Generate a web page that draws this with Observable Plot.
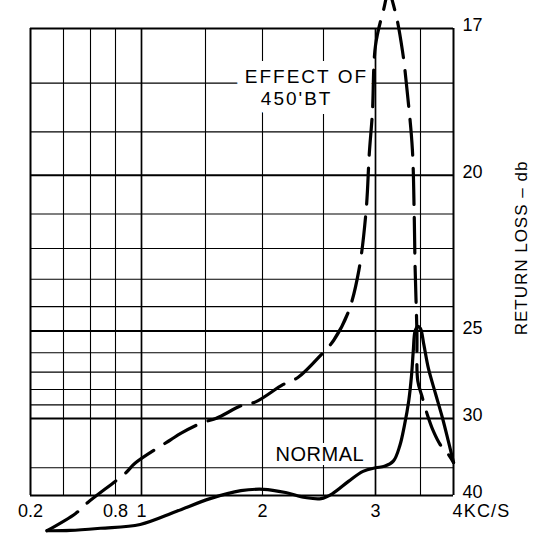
<!DOCTYPE html>
<html>
<head>
<meta charset="utf-8">
<script src="https://cdn.jsdelivr.net/npm/d3@7"></script>
<script src="https://cdn.jsdelivr.net/npm/@observablehq/plot@0.6"></script>
<style>
  html, body { margin: 0; padding: 0; background: #fff; }
  #chart svg { display: block; }
</style>
</head>
<body>
<div id="chart"></div>
<script>
// ---- data (frequency in kc/s, return loss in db) ----
const freqGrid = [0.2, 0.4, 0.6, 0.8, 1, 1.5, 2, 2.5, 3, 3.5, 4];
const freqHeavy = [1, 3];
const freqBorder = [0.2, 4];
const freqLabels = [0.2, 0.8, 1, 2, 3];
const freqEndLabel = [4];
const freqEndText = "4KC/S";

const lossBorder = [17, 40];
const lossMajor = [20, 25, 30];
const lossMinor = [18, 19, 21, 22, 23, 24, 26, 27, 28, 29, 35];
const lossTicks = [17, 20, 25, 30, 40];
const lossTitle = "RETURN LOSS \u2013 db";

const normalFreq = [0.30, 0.45, 0.68, 0.99, 1.27, 1.54, 1.81, 2.01, 2.19, 2.35, 2.48, 2.59, 2.74, 2.88, 3.00, 3.10, 3.20, 3.27, 3.32, 3.37, 3.40, 3.42, 3.44, 3.47, 3.50, 3.55, 3.62, 3.73, 3.83, 3.92, 4.00];
const normalLoss = [80, 75, 62, 54.6, 45.2, 40.8, 38.9, 38.6, 39.3, 40.5, 40.8, 39.5, 37.1, 35.5, 35.0, 34.8, 34.1, 32.4, 30.6, 28.7, 27.2, 25.9, 25.0, 24.8, 24.9, 25.6, 26.8, 28.3, 29.9, 31.9, 34.3];

const btFreq = [0.30, 0.49, 0.58, 0.88, 0.95, 1.23, 1.31, 1.48, 1.59, 1.83, 1.94, 2.17, 2.29, 2.48, 2.60, 2.74, 2.84, 2.91, 2.94, 2.97, 3.00, 3.09, 3.145, 3.22, 3.30, 3.36, 3.41, 3.43, 3.44, 3.46, 3.47, 3.52, 3.61, 3.70, 3.80, 3.91, 4.00];
const btLoss = [80, 46.1, 41.9, 35.7, 34.4, 31.8, 31.2, 30.3, 30.0, 29.0, 28.8, 27.7, 27.3, 26.1, 25.4, 24.2, 22.7, 20.9, 19.5, 18.6, 17.3, 16.68, 16.4, 16.72, 17.4, 18.3, 19.4, 21.0, 22.6, 25.0, 27.5, 28.4, 29.8, 31.1, 32.3, 33.2, 34.3];

const annotText = ["EFFECT OF", "450'BT", "NORMAL"];
const annotFreq = [2.36, 2.28, 2.47];
const annotLoss = [18.0, 18.44, 34.15];

// ---- helpers ----
// the chart's loss axis is linear in reflection coefficient
const refl = db => Math.pow(10, -db / 20);
const toDb = r => Math.round(-20 * Math.log10(r));

const normal = normalFreq.map((f, i) => ({f, db: normalLoss[i]}));
const bt = btFreq.map((f, i) => ({f, db: btLoss[i]}));
const annots = annotText.map((t, i) => ({t, f: annotFreq[i], db: annotLoss[i]}));

const FONT = "'Liberation Sans', Arial, Helvetica, sans-serif";

const svg = Plot.plot({
  width: 547,
  height: 539,
  marginLeft: 30,
  marginRight: 94,
  marginTop: 28,
  marginBottom: 44,
  style: {fontFamily: FONT, background: "#fff", color: "#000", overflow: "visible"},
  x: {type: "linear", domain: freqGrid, range: [30, 63, 90, 115, 141, 205, 262, 323, 375, 420, 453], axis: null},
  y: {type: "linear", domain: [refl(40), refl(17)], axis: null},
  marks: [
    Plot.ruleX(freqGrid.filter(f => !freqHeavy.includes(f) && !freqBorder.includes(f)), {stroke: "#000", strokeWidth: 1.1}),
    Plot.ruleX(freqHeavy, {stroke: "#000", strokeWidth: 1.7}),
    Plot.ruleX(freqBorder, {stroke: "#000", strokeWidth: 2}),
    Plot.ruleY(lossMinor, {y: refl, stroke: "#000", strokeWidth: 1.1}),
    Plot.ruleY(lossMajor, {y: refl, stroke: "#000", strokeWidth: 1.9}),
    Plot.ruleY(lossBorder, {y: refl, stroke: "#000", strokeWidth: 2}),
    Plot.text(annots, {
      x: "f", y: d => refl(d.db), text: "t", lineAnchor: "bottom", textAnchor: "middle",
      fontSize: d => d.t === "NORMAL" ? 20 : 19, fill: "#000", stroke: "#fff",
      strokeWidth: d => d.t === "NORMAL" ? 8 : 18,
      strokeLinejoin: "round"
    }),
    Plot.line(bt, {x: "f", y: d => refl(d.db), stroke: "#000", strokeWidth: 3.2, strokeDasharray: "36,13", curve: "catmull-rom"}),
    Plot.line(normal, {x: "f", y: d => refl(d.db), stroke: "#000", strokeWidth: 3.2, curve: "catmull-rom"}),
    Plot.axisY(lossTicks.map(refl), {anchor: "right", tickSize: 0, tickPadding: 9, fontSize: 18, dy: -3, tickFormat: toDb, label: null}),
    Plot.axisX(freqLabels, {anchor: "bottom", tickSize: 0, tickPadding: 9, fontSize: 18, tickFormat: d => String(d), label: null}),
    Plot.text(freqEndLabel, {x: d => d, frameAnchor: "bottom", text: () => freqEndText, textAnchor: "start", lineAnchor: "top", dy: 9, dx: -1, fontSize: 18}),
    Plot.text([lossTitle], {frameAnchor: "right", text: d => d, rotate: -90, dx: 68, dy: -14, fontSize: 17, textAnchor: "middle", lineAnchor: "middle"})
  ]
});

d3.select(svg).selectAll("text").each(function() {
  const t = this.textContent;
  if (t === "EFFECT OF" || t === "450'BT") this.setAttribute("letter-spacing", "2");
  if (t === "NORMAL") this.setAttribute("letter-spacing", "0.5");
  if (t === freqEndText) this.setAttribute("letter-spacing", "1.2");
  if (t === lossTitle) this.setAttribute("letter-spacing", "1");
});

document.getElementById("chart").appendChild(svg);
</script>
</body>
</html>
